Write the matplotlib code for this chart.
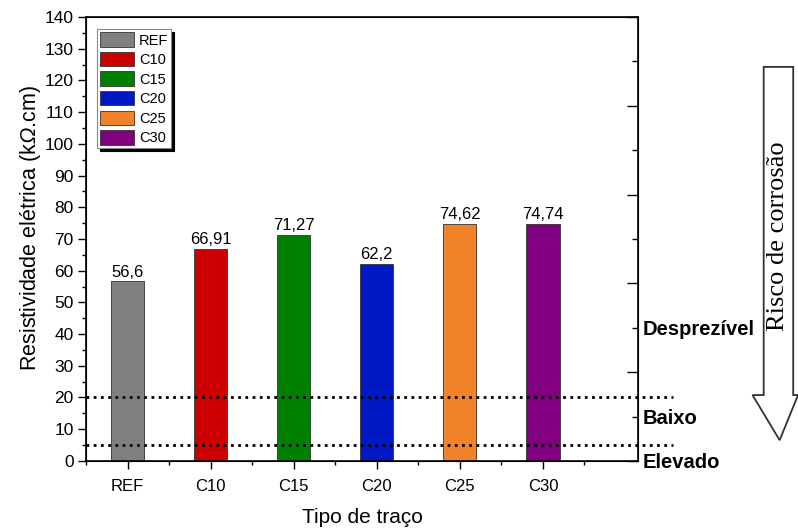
import matplotlib
matplotlib.use('Agg')
import matplotlib.pyplot as plt
from matplotlib.patches import Polygon
from matplotlib.ticker import MultipleLocator, FixedLocator, FixedFormatter

plt.rcParams['font.family'] = ['Liberation Sans', 'DejaVu Sans']
# Ω em itálico no rótulo do eixo y (via \mathsf)
plt.rcParams['mathtext.fontset'] = 'custom'
plt.rcParams['mathtext.rm'] = 'Liberation Sans'
plt.rcParams['mathtext.sf'] = 'Liberation Sans:italic'

# resistividade por tipo de traço
tracos = ['REF', 'C10', 'C15', 'C20', 'C25', 'C30']
resistividade = [56.6, 66.91, 71.27, 62.2, 74.62, 74.74]
rotulos = ['56,6', '66,91', '71,27', '62,2', '74,62', '74,74']
cores = ['#808080', '#cc0000', '#008000', '#0019c4', '#f0822a', '#800080']

# limites de risco de corrosão (kΩ.cm)
limites = [20, 5]
risco_pos = [0, 1, 3]
risco_txt = ['Elevado', 'Baixo', 'Desprezível']

fig = plt.figure(figsize=(7.98, 5.31), dpi=100)
ax = fig.add_axes([0.108, 0.132, 0.692, 0.836])

x = list(range(len(tracos)))
bars = ax.bar(x, resistividade, width=0.4, color=cores, edgecolor='#333333',
              linewidth=0.6, label=tracos, zorder=2)
for xi, v, t in zip(x, resistividade, rotulos):
    ax.text(xi, v + 0.6, t, ha='center', va='bottom', fontsize=12)

for lim in limites:
    ax.axhline(lim, xmin=0, xmax=1.062, color='black', linestyle=(0, (1, 1.6)),
               linewidth=2, clip_on=False, zorder=3)

ax.set_xlim(-0.5, 6.15)
ax.set_ylim(0, 140)
ax.set_xticks(x)
ax.set_xticklabels(tracos, fontsize=12)
ax.xaxis.set_minor_locator(FixedLocator([i - 0.5 for i in range(len(tracos) + 1)]))
ax.yaxis.set_major_locator(MultipleLocator(10))
ax.yaxis.set_minor_locator(MultipleLocator(5))
ax.tick_params(axis='y', which='major', labelsize=12.5, length=6, width=1, pad=3)
ax.tick_params(axis='y', which='minor', length=3, width=1)
ax.tick_params(axis='x', which='major', length=6, width=1, pad=7)
ax.tick_params(axis='x', which='minor', length=3, width=1)
ax.tick_params(top=False, right=False, which='both')
for s in ax.spines.values():
    s.set_linewidth(1.2)

ax.set_xlabel('Tipo de traço', fontsize=15, labelpad=10)
ax.set_ylabel(r'Resistividade elétrica (k$\mathsf{Ω}$.cm)', fontsize=15.5)
ax.yaxis.set_label_coords(-0.079, 0.525)

leg = ax.legend(bars, tracos, loc='upper left', bbox_to_anchor=(0.02, 0.972),
                fontsize=10.5, fancybox=False, shadow={'color': 'black', 'alpha': 1},
                edgecolor='#888888', handlelength=2.35, handleheight=1.15,
                labelspacing=0.3, handletextpad=0.3, borderpad=0.2,
                borderaxespad=0, framealpha=1)
leg.get_frame().set_linewidth(0.8)

# eixo de risco à direita
ax2 = ax.twinx()
ax2.set_ylim(0, 10)
ax2.yaxis.set_major_locator(FixedLocator([0, 2, 4, 6, 8, 10]))
ax2.yaxis.set_major_formatter(FixedFormatter(['Elevado', '', '', '', '', '']))
ax2.yaxis.set_minor_locator(FixedLocator([1, 3, 5, 7, 9]))
ax2.yaxis.set_minor_formatter(FixedFormatter(['Baixo', 'Desprezível', '', '', '']))
ax2.tick_params(axis='y', which='both', direction='in', length=8, width=1,
                labelsize=14.5, pad=3)
ax2.tick_params(axis='y', which='minor', length=4)
for lbl in ax2.get_yticklabels(which='both'):
    lbl.set_fontweight('bold')

# seta indicando o risco de corrosão
seta = [(0.957, 0.874), (0.994, 0.874), (0.994, 0.256), (1.0, 0.256),
        (0.977, 0.171), (0.943, 0.256), (0.957, 0.256)]
fig.patches.append(Polygon(seta, closed=True, transform=fig.transFigure,
                           facecolor='white', edgecolor='#333333', linewidth=1.3))
fig.text(0.9755, 0.555, 'Risco de corrosão', rotation=90, ha='center', va='center',
         fontsize=19, family='Liberation Serif')

fig.savefig('out.png', dpi=100)
